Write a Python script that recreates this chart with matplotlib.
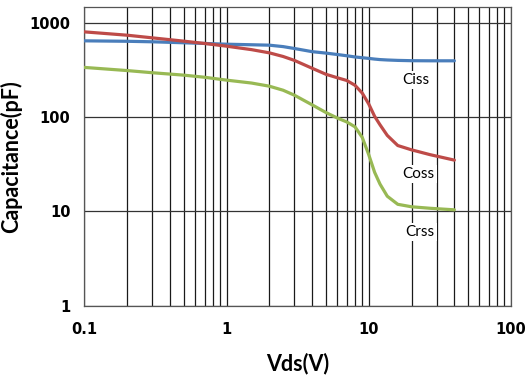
import matplotlib
matplotlib.use("Agg")
import matplotlib.pyplot as plt
from matplotlib.ticker import FixedLocator, LogLocator, NullFormatter

# data
vds = [0.1, 0.2, 0.3, 0.5, 0.7, 1, 1.5, 2, 2.5, 3, 4, 5, 6, 7, 8, 9, 10,
       11, 12, 13.5, 16, 20, 27, 40]
ciss = [645, 638, 630, 615, 605, 594, 586, 580, 560, 535, 495, 478, 462,
        448, 435, 427, 420, 413, 408, 404, 400, 397, 396, 396]
coss = [803, 740, 694, 640, 605, 566, 520, 481, 440, 400, 330, 285, 262,
        245, 218, 180, 138, 102, 83, 64, 50, 45, 40, 35]
crss = [337, 312, 296, 279, 265, 247, 230, 213, 193, 171, 135, 112, 98,
        89, 79, 61, 40, 26, 19.5, 14.5, 11.9, 11.2, 10.8, 10.4]

curve_names = ['Ciss', 'Coss', 'Crss']
label_pos = [(21.6, 247), (22.4, 25), (22.9, 6.0)]
colors = ['#4a7ebb', '#be4b48', '#98b954']

x_ticks = [0.1, 1, 10, 100]
x_tick_labels = ['0.1', '1', '10', '100']
y_ticks = [1, 10, 100, 1000]
y_tick_labels = ['1', '10', '100', '1000']

fig = plt.figure(figsize=(5.28, 3.75), dpi=100)
ax = fig.add_axes([0.1597, 0.1848, 0.808, 0.797])

for vals, c in zip([ciss, coss, crss], colors):
    ax.plot(vds, vals, color=c, linewidth=2.3, solid_capstyle='round',
            solid_joinstyle='round', zorder=3)

ax.set_xscale('log')
ax.set_yscale('log')
ax.set_xlim(0.1, 100)
ax.set_ylim(1, 1480)

ax.xaxis.set_major_locator(FixedLocator(x_ticks))
ax.xaxis.set_minor_locator(LogLocator(base=10, subs=range(2, 10)))
ax.xaxis.set_minor_formatter(NullFormatter())
ax.set_xticklabels(x_tick_labels)
ax.yaxis.set_major_locator(FixedLocator(y_ticks))
ax.yaxis.set_minor_locator(FixedLocator([]))
ax.set_yticklabels(y_tick_labels)

ax.grid(True, which='major', axis='x', color='#1a1a1a', linewidth=0.9)
ax.grid(True, which='minor', axis='x', color='#1a1a1a', linewidth=0.9)
ax.grid(True, which='major', axis='y', color='#333333', linewidth=0.9)
ax.tick_params(which='both', length=0)
ax.tick_params(axis='x', pad=12, labelsize=10.5)
ax.tick_params(axis='y', pad=10, labelsize=10.5)
for lab in ax.get_xticklabels() + ax.get_yticklabels():
    lab.set_fontweight('bold')
for s in ax.spines.values():
    s.set_color('#555555')
    s.set_linewidth(0.9)

for name, (lx, ly) in zip(curve_names, label_pos):
    ax.text(lx, ly, name, ha='center', va='center', fontsize=11,
            family='Lato', zorder=4,
            bbox=dict(facecolor='white', edgecolor='none', pad=1.5))

ax.set_xlabel('Vds(V)', fontsize=15.5, fontweight='bold', family='Lato',
              labelpad=11)
ax.set_ylabel('Capacitance(pF)', fontsize=15.5, fontweight='bold',
              family='Lato', labelpad=5)

fig.savefig('out.png', dpi=100)
